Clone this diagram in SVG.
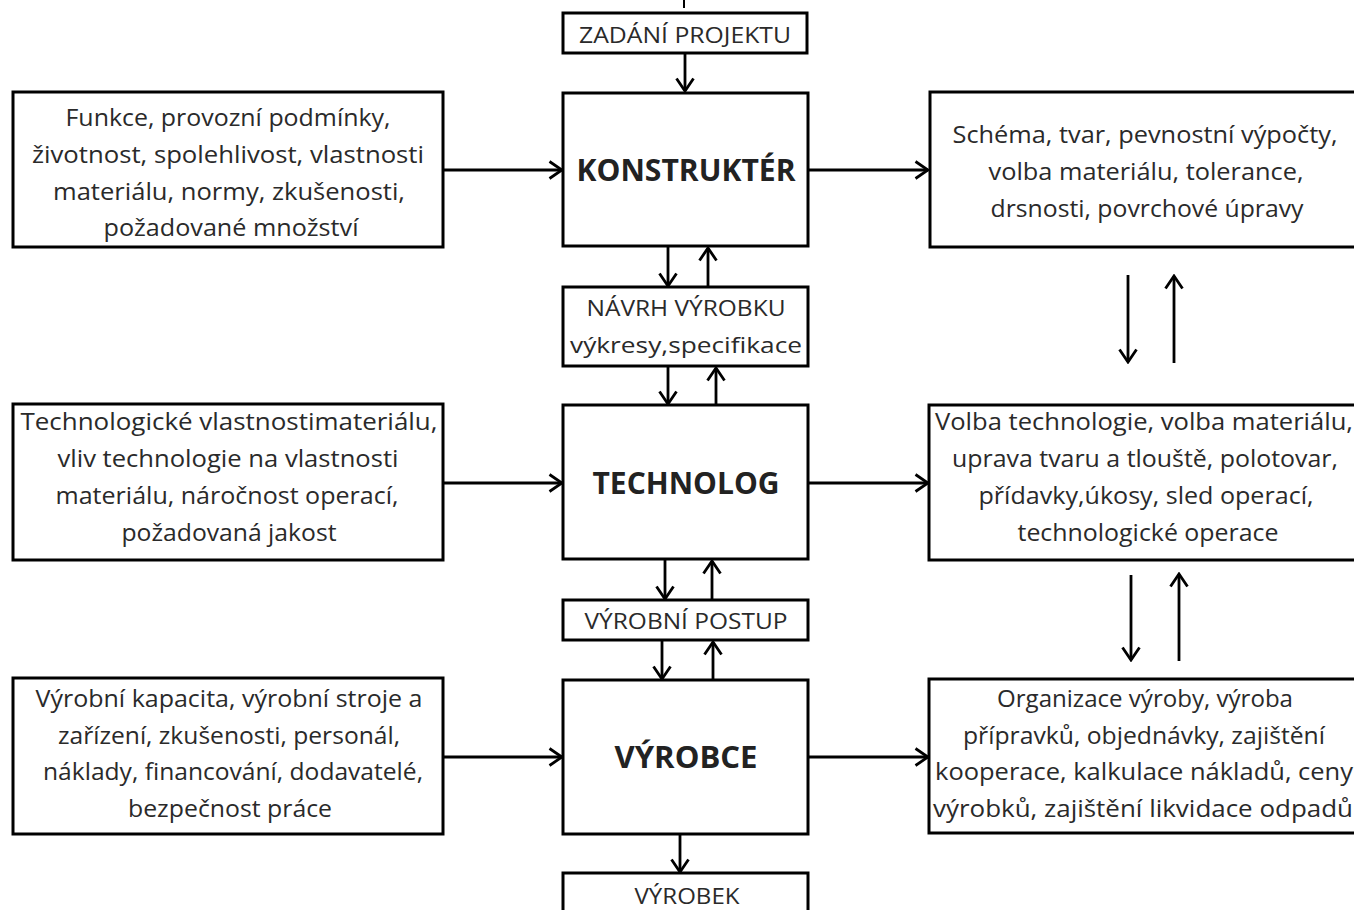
<svg xmlns="http://www.w3.org/2000/svg" width="1354" height="910" viewBox="0 0 1354 910">
<defs>
<marker id="ah" viewBox="0 0 16 20" refX="14" refY="10" markerWidth="16" markerHeight="20" markerUnits="userSpaceOnUse" orient="auto">
<path d="M1.5,1.5 L14,10 L1.5,18.5" fill="none" stroke="#000" stroke-width="2.8"/>
</marker>
</defs>
<style>
.box{fill:#fff;stroke:#000;stroke-width:3}
.t{font-family:"Open Sans","Noto Sans","Liberation Sans",sans-serif;font-size:23px;fill:#2a2a2a;text-anchor:middle}
.s{font-family:"Open Sans","Noto Sans","Liberation Sans",sans-serif;font-size:21px;fill:#2a2a2a;text-anchor:middle}
.b{font-family:"Open Sans","Noto Sans","Liberation Sans",sans-serif;font-size:31px;font-weight:bold;fill:#222;text-anchor:middle}
.c{stroke:#000;stroke-width:2.8;fill:none;marker-end:url(#ah)}
</style>
<rect width="1354" height="910" fill="#fff"/>

<g id="connectors">
<line x1="684" y1="0" x2="684" y2="8" stroke="#000" stroke-width="2"/>
<line class="c" x1="685" y1="54" x2="685" y2="91"/>
<line class="c" x1="668" y1="247" x2="668" y2="286"/>
<line class="c" x1="708" y1="287" x2="708" y2="248"/>
<line class="c" x1="668" y1="367" x2="668" y2="404"/>
<line class="c" x1="716" y1="405" x2="716" y2="368"/>
<line class="c" x1="665" y1="560" x2="665" y2="599"/>
<line class="c" x1="712" y1="600" x2="712" y2="561"/>
<line class="c" x1="662" y1="641" x2="662" y2="679"/>
<line class="c" x1="713" y1="680" x2="713" y2="642"/>
<line class="c" x1="680" y1="835" x2="680" y2="872"/>
<line class="c" x1="443" y1="170" x2="562" y2="170"/>
<line class="c" x1="808" y1="170" x2="928" y2="170"/>
<line class="c" x1="443" y1="483" x2="562" y2="483"/>
<line class="c" x1="808" y1="483" x2="928" y2="483"/>
<line class="c" x1="443" y1="757" x2="562" y2="757"/>
<line class="c" x1="808" y1="757" x2="928" y2="757"/>
<line class="c" x1="1128" y1="275" x2="1128" y2="362"/>
<line class="c" x1="1174" y1="363" x2="1174" y2="276"/>
<line class="c" x1="1131" y1="575" x2="1131" y2="660"/>
<line class="c" x1="1179" y1="661" x2="1179" y2="574"/>
</g>

<g id="zadani">
<rect class="box" x="563" y="13" width="244" height="40"/>
<text class="s" x="685" y="43" textLength="212" lengthAdjust="spacingAndGlyphs">ZADÁNÍ PROJEKTU</text>
</g>

<g id="konstrukter">
<rect class="box" x="563" y="93" width="245" height="153"/>
<text class="b" x="686" y="181" textLength="219" lengthAdjust="spacingAndGlyphs">KONSTRUKTÉR</text>
</g>

<g id="navrh">
<rect class="box" x="563" y="287" width="245" height="79"/>
<text class="s" x="686" y="316" textLength="199" lengthAdjust="spacingAndGlyphs">NÁVRH VÝROBKU</text>
<text class="s" x="686" y="353" textLength="232" lengthAdjust="spacingAndGlyphs">výkresy,specifikace</text>
</g>

<g id="technolog">
<rect class="box" x="563" y="405" width="245" height="154"/>
<text class="b" x="686" y="494" textLength="187" lengthAdjust="spacingAndGlyphs">TECHNOLOG</text>
</g>

<g id="postup">
<rect class="box" x="563" y="600" width="245" height="40"/>
<text class="s" x="686" y="629" textLength="203" lengthAdjust="spacingAndGlyphs">VÝROBNÍ POSTUP</text>
</g>

<g id="vyrobce">
<rect class="box" x="563" y="680" width="245" height="154"/>
<text class="b" x="686" y="768" textLength="143" lengthAdjust="spacingAndGlyphs">VÝROBCE</text>
</g>

<g id="vyrobek">
<rect class="box" x="563" y="873" width="245" height="50"/>
<text class="s" x="687" y="904" textLength="105" lengthAdjust="spacingAndGlyphs">VÝROBEK</text>
</g>

<g id="left1">
<rect class="box" x="13" y="92" width="430" height="155"/>
<text class="t" x="228" y="126" textLength="325" lengthAdjust="spacingAndGlyphs">Funkce, provozní podmínky,</text>
<text class="t" x="228" y="163" textLength="392" lengthAdjust="spacingAndGlyphs">životnost, spolehlivost, vlastnosti</text>
<text class="t" x="229" y="200" textLength="352" lengthAdjust="spacingAndGlyphs">materiálu, normy, zkušenosti,</text>
<text class="t" x="231" y="236" textLength="255" lengthAdjust="spacingAndGlyphs">požadované množství</text>
</g>

<g id="left2">
<rect class="box" x="13" y="404" width="430" height="156"/>
<text class="t" x="229" y="430" textLength="417" lengthAdjust="spacingAndGlyphs">Technologické vlastnostimateriálu,</text>
<text class="t" x="228" y="467" textLength="341" lengthAdjust="spacingAndGlyphs">vliv technologie na vlastnosti</text>
<text class="t" x="227" y="504" textLength="343" lengthAdjust="spacingAndGlyphs">materiálu, náročnost operací,</text>
<text class="t" x="229" y="541" textLength="215" lengthAdjust="spacingAndGlyphs">požadovaná jakost</text>
</g>

<g id="left3">
<rect class="box" x="13" y="678" width="430" height="156"/>
<text class="t" x="229" y="707" textLength="387" lengthAdjust="spacingAndGlyphs">Výrobní kapacita, výrobní stroje a</text>
<text class="t" x="229" y="744" textLength="342" lengthAdjust="spacingAndGlyphs">zařízení, zkušenosti, personál,</text>
<text class="t" x="233" y="780" textLength="380" lengthAdjust="spacingAndGlyphs">náklady, financování, dodavatelé,</text>
<text class="t" x="230" y="817" textLength="204" lengthAdjust="spacingAndGlyphs">bezpečnost práce</text>
</g>

<g id="right1">
<rect class="box" x="930" y="92" width="440" height="155"/>
<text class="t" x="1145" y="143" textLength="385" lengthAdjust="spacingAndGlyphs">Schéma, tvar, pevnostní výpočty,</text>
<text class="t" x="1146" y="180" textLength="315" lengthAdjust="spacingAndGlyphs">volba materiálu, tolerance,</text>
<text class="t" x="1147" y="217" textLength="313" lengthAdjust="spacingAndGlyphs">drsnosti, povrchové úpravy</text>
</g>

<g id="right2">
<rect class="box" x="929" y="405" width="440" height="155"/>
<text class="t" x="1144" y="430" textLength="418" lengthAdjust="spacingAndGlyphs">Volba technologie, volba materiálu,</text>
<text class="t" x="1145" y="467" textLength="386" lengthAdjust="spacingAndGlyphs">uprava tvaru a tlouště, polotovar,</text>
<text class="t" x="1146" y="504" textLength="335" lengthAdjust="spacingAndGlyphs">přídavky,úkosy, sled operací,</text>
<text class="t" x="1148" y="541" textLength="261" lengthAdjust="spacingAndGlyphs">technologické operace</text>
</g>

<g id="right3">
<rect class="box" x="929" y="679" width="440" height="154"/>
<text class="t" x="1145" y="707" textLength="296" lengthAdjust="spacingAndGlyphs">Organizace výroby, výroba</text>
<text class="t" x="1144" y="744" textLength="362" lengthAdjust="spacingAndGlyphs">přípravků, objednávky, zajištění</text>
<text class="t" x="1144" y="780" textLength="418" lengthAdjust="spacingAndGlyphs">kooperace, kalkulace nákladů, ceny</text>
<text class="t" x="1143" y="817" textLength="420" lengthAdjust="spacingAndGlyphs">výrobků, zajištění likvidace odpadů</text>
</g>
</svg>
